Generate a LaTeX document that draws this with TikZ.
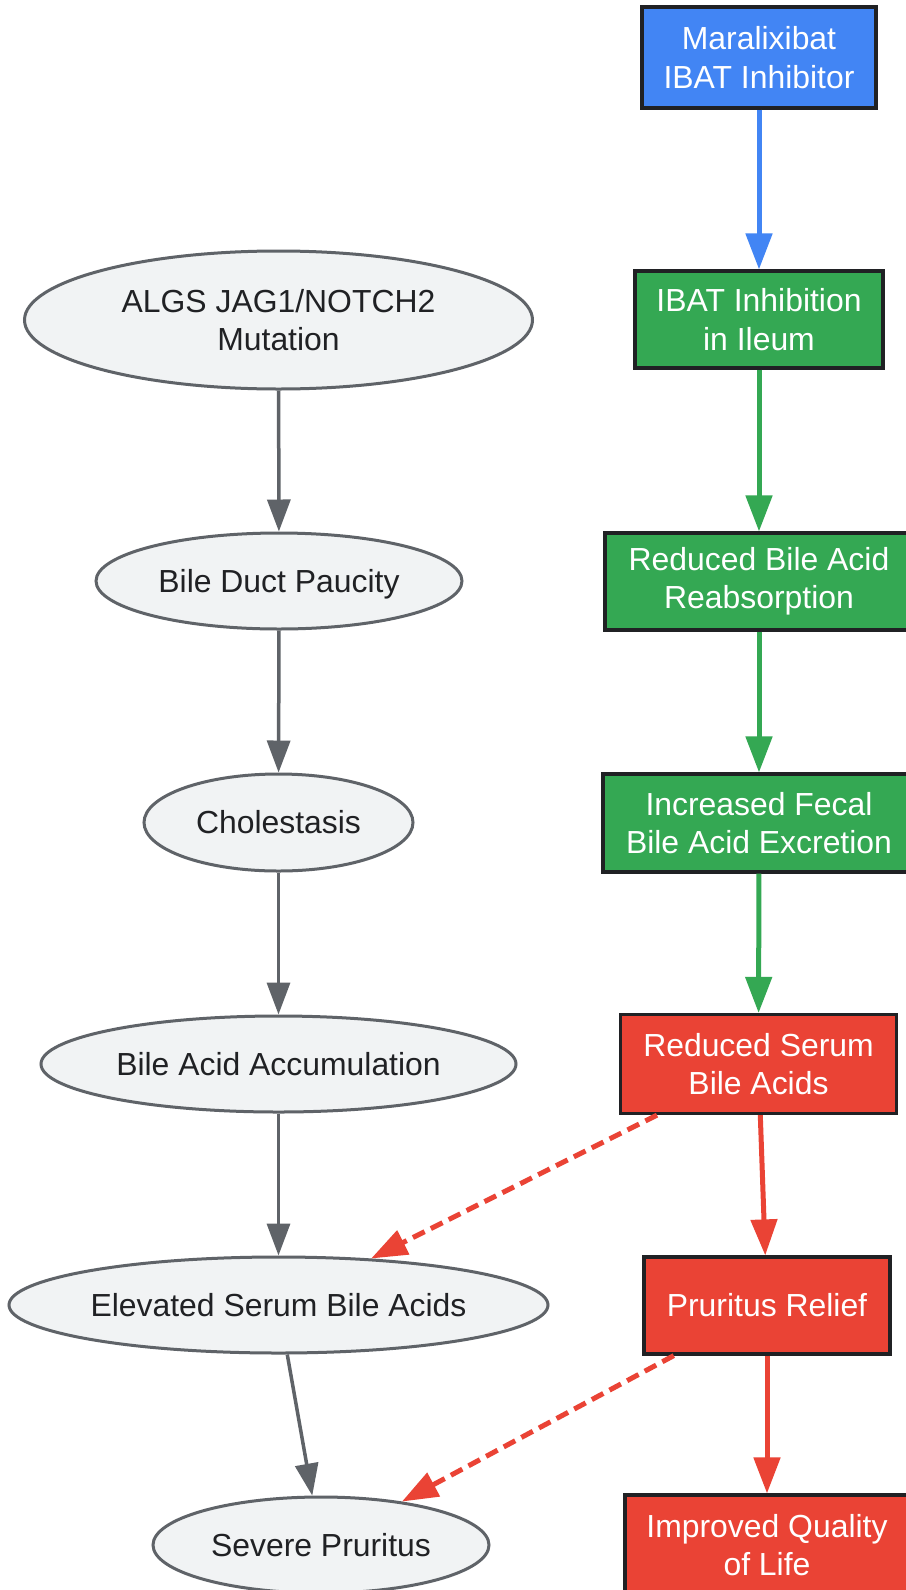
\documentclass[tikz,border=0pt]{standalone}
\usepackage{fontspec}
\setmainfont{Liberation Sans}
\usetikzlibrary{shapes.geometric,arrows.meta}
\definecolor{gblue}{HTML}{4285F4}
\definecolor{ggreen}{HTML}{34A853}
\definecolor{gred}{HTML}{EA4335}
\definecolor{gfill}{HTML}{F1F3F4}
\definecolor{gstroke}{HTML}{5F6368}
\definecolor{gdark}{HTML}{202124}
\tikzset{
  every node/.style={font=\fontsize{31.9}{38.4}\selectfont, align=center, inner sep=0pt},
  oval/.style={ellipse, draw=gstroke, fill=gfill, line width=3pt, text=gdark},
  box/.style={rectangle, draw=gdark, line width=3.2pt, text=white},
  bigtip/.style={-{Triangle[length=36pt,width=26pt]}},
  smalltip/.style={-{Triangle[length=32pt,width=23pt]}},
  grayarrow/.style={smalltip, draw=gstroke, fill=gstroke, line width=3.5pt},
  bluearrow/.style={bigtip, draw=gblue, line width=5pt},
  greenarrow/.style={bigtip, draw=ggreen, line width=5pt},
  redarrow/.style={bigtip, draw=gred, line width=5pt},
  reddash/.style={bigtip, draw=gred, line width=5pt, dash pattern=on 13pt off 7pt},
}
\begin{document}
\begin{tikzpicture}[x=1pt,y=-1pt]
\useasboundingbox[fill=white] (0,0) rectangle (905,1590);
% left column
\node[oval, minimum width=508pt, minimum height=138pt] (algs) at (278.5,320) {ALGS JAG1/NOTCH2\\Mutation};
\node[oval, minimum width=366pt, minimum height=96pt, text depth=0pt] (bdp) at (279,581) {Bile Duct Paucity};
\node[oval, minimum width=269pt, minimum height=97pt] (chol) at (278.5,822.5) {Cholestasis};
\node[oval, minimum width=475pt, minimum height=96pt] (baa) at (278.5,1064) {Bile Acid Accumulation};
\node[oval, minimum width=539pt, minimum height=96pt] (esba) at (278.5,1305) {Elevated Serum Bile Acids};
\node[oval, minimum width=336pt, minimum height=96pt] (sp) at (321,1545) {Severe Pruritus};
% right column
\node[box, fill=gblue, minimum width=234pt, minimum height=101pt] (mar) at (759,57.5) {Maralixibat\\IBAT Inhibitor};
\node[box, fill=ggreen, minimum width=248pt, minimum height=97pt] (ibat) at (759,319.5) {IBAT Inhibition\\in Ileum};
\node[box, fill=ggreen, minimum width=308pt, minimum height=97pt] (rbar) at (759,581.5) {Reduced Bile Acid\\Reabsorption};
\node[box, fill=ggreen, minimum width=312pt, minimum height=98pt] (ifec) at (759,823) {Increased Fecal\\Bile Acid Excretion};
\node[box, fill=gred, minimum width=276pt, minimum height=99pt] (rs) at (758.5,1064) {Reduced Serum\\Bile Acids};
\node[box, fill=gred, minimum width=246pt, minimum height=97pt] (pr) at (767,1305.5) {Pruritus Relief};
\node[box, fill=gred, minimum width=284pt, minimum height=100pt] (iq) at (767,1545) {Improved Quality\\of Life};
% connectors
\draw[grayarrow] (algs) -- (bdp);
\draw[grayarrow] (bdp) -- (chol);
\draw[grayarrow] (chol) -- (baa);
\draw[grayarrow] (baa) -- (esba);
\draw[grayarrow] (esba) -- (sp);
\draw[bluearrow] (mar) -- (ibat);
\draw[greenarrow] (ibat) -- (rbar);
\draw[greenarrow] (rbar) -- (ifec);
\draw[greenarrow] (ifec) -- (rs);
\draw[redarrow] (rs) -- (pr);
\draw[redarrow] (pr) -- (iq);
\draw[reddash] (rs) -- (esba);
\draw[reddash] (pr) -- (sp);
\end{tikzpicture}
\end{document}
